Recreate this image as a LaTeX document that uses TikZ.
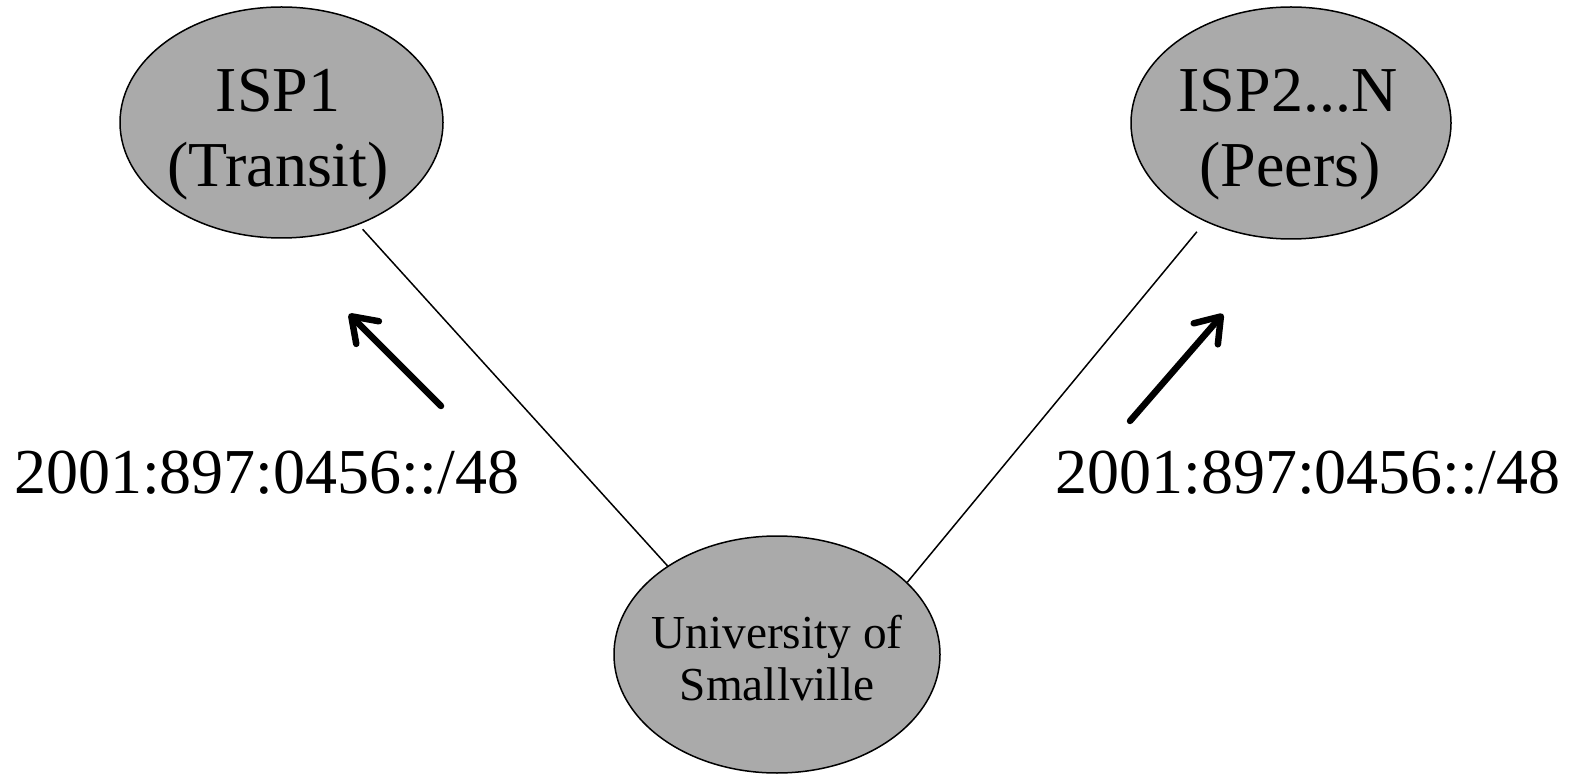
\documentclass[tikz,border=0pt]{standalone}
\usepackage{fontspec}
\setmainfont{Liberation Serif}
\usetikzlibrary{shapes.geometric,arrows.meta}
\definecolor{ellgray}{RGB}{170,170,170}
\tikzset{
  ellnode/.style={ellipse, draw=black, line width=1.5pt, fill=ellgray, inner sep=0pt},
  bigtext/.style={anchor=base, inner sep=0pt, font=\fontsize{64}{75}\selectfont},
  midtext/.style={anchor=base, inner sep=0pt, font=\fontsize{47.3}{52}\selectfont},
  link/.style={line width=1.5pt},
  bigarrow/.style={line width=6.5pt, line cap=round,
    -{Straight Barb[length=23pt, width=32pt, line cap=round, line join=round]}}
}
\begin{document}
\begin{tikzpicture}[x=1pt, y=-1pt]
\useasboundingbox (0,0) rectangle (1577,775);
% ellipses
\node[ellnode, minimum width=323pt, minimum height=231pt] (isp1) at (281.5,122.5) {};
\node[ellnode, minimum width=320pt, minimum height=232pt] (isp2) at (1291,123) {};
\node[ellnode, minimum width=326pt, minimum height=237pt] (univ) at (777,654.5) {};
% texts
\node[bigtext] (isp1a) at (278,112) {ISP1};
\node[bigtext] (isp1b) at (278,187) {(Transit)};
\node[bigtext] (isp2a) at (1288,112) {ISP2...N};
\node[bigtext] (isp2b) at (1290,187) {(Peers)};
\node[midtext] (univa) at (777,648) {University of};
\node[midtext] (univb) at (777,700) {Smallville};
\node[bigtext, anchor=base west] (pfx1) at (14,493) {2001:897:0456::/48};
\node[bigtext, anchor=base west] (pfx2) at (1055,493) {2001:897:0456::/48};
% links
\draw[link, shorten <=6pt] (isp1.307) -- (univ.141);
\draw[link, shorten <=13pt] (isp2.229) -- (univ.29);
% arrows
\coordinate (a1s) at (441,406);
\coordinate (a1e) at (349,314);
\coordinate (a2s) at (1130,421);
\coordinate (a2e) at (1223,314);
\draw[bigarrow] (a1s) -- (a1e);
\draw[bigarrow] (a2s) -- (a2e);
\end{tikzpicture}
\end{document}
